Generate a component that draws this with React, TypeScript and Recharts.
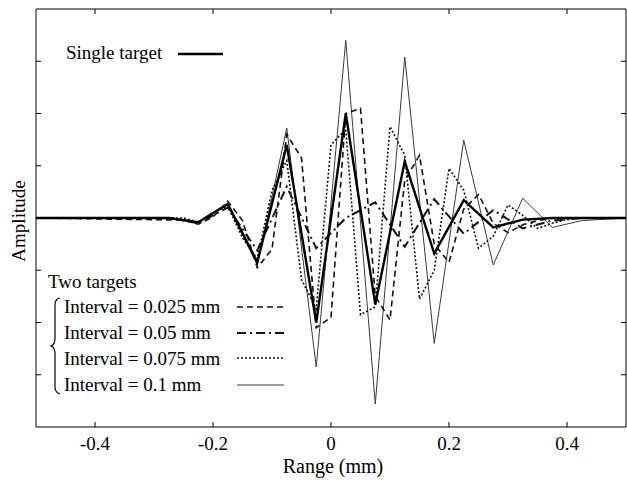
import React from 'react';
import { LineChart, Line, XAxis, YAxis } from 'recharts';

const W = 627;
const H = 481;
const FONT = 'Liberation Serif, Times New Roman, serif';

const xTickValues = [-0.4, -0.2, 0, 0.2, 0.4];
const yTickValues = [-3, -2, -1, 0, 1, 2, 3];

// Single target (samples every 0.05 mm)
const singleX = [-0.5, -0.275, -0.225, -0.175, -0.125, -0.075, -0.025, 0.025, 0.075, 0.125, 0.175, 0.225, 0.275, 0.325, 0.375, 0.5];
const singleY = [0, 0, -0.08, 0.27, -0.85, 1.4, -2.0, 2.0, -1.65, 1.08, -0.68, 0.34, -0.18, -0.03, 0, 0];

// Interval = 0.1 mm
const int100X = [-0.5, -0.275, -0.225, -0.175, -0.125, -0.075, -0.025, 0.025, 0.075, 0.125, 0.175, 0.225, 0.275, 0.325, 0.375, 0.425, 0.5];
const int100Y = [0, 0, -0.08, 0.27, -0.9, 1.72, -2.85, 3.4, -3.56, 3.08, -2.4, 1.49, -0.9, 0.38, -0.18, -0.05, 0];

// Interval = 0.05 mm
const int050X = [-0.5, -0.275, -0.225, -0.175, -0.125, -0.075, -0.025, 0.025, 0.075, 0.125, 0.175, 0.225, 0.275, 0.325, 0.375, 0.425, 0.5];
const int050Y = [0, 0, -0.1, 0.2, -0.62, 0.6, -0.58, 0.0, 0.3, -0.55, 0.36, -0.3, 0.15, -0.2, -0.05, 0, 0];

// Interval = 0.025 mm
const int025X = [-0.5, -0.25, -0.225, -0.2, -0.175, -0.15, -0.125, -0.1, -0.075, -0.05, -0.025, 0, 0.025, 0.05, 0.075, 0.1, 0.125, 0.15, 0.175, 0.2, 0.225, 0.25, 0.275, 0.3, 0.325, 0.35, 0.375, 0.4, 0.5];
const int025Y = [0, -0.04, -0.12, 0.02, 0.32, -0.05, -0.95, -0.6, 1.6, 1.15, -2.1, -1.9, 2.0, 2.1, -1.5, -1.95, 0.72, 1.2, -0.5, -0.85, 0.17, 0.45, -0.1, -0.28, -0.13, -0.05, 0, 0, 0];

// Interval = 0.075 mm
const int075X = [-0.5, -0.25, -0.225, -0.2, -0.175, -0.15, -0.125, -0.1, -0.075, -0.05, -0.025, 0, 0.025, 0.05, 0.075, 0.1, 0.125, 0.15, 0.175, 0.2, 0.225, 0.25, 0.275, 0.3, 0.325, 0.35, 0.375, 0.4, 0.425, 0.5];
const int075Y = [0, 0, -0.08, 0.1, 0.23, -0.38, -0.78, 0.53, 1.1, -1.18, -1.74, 1.4, 1.7, -1.85, -1.7, 1.75, 1.2, -1.55, -1.0, 0.95, 0.53, -0.58, -0.35, 0.25, 0.05, -0.2, -0.1, -0.03, 0, 0];

const rows = (xs: number[], ys: number[]) => xs.map((x, i) => ({ x, y: ys[i] }));

const singleData = rows(singleX, singleY);
const d100 = rows(int100X, int100Y);
const d050 = rows(int050X, int050Y);
const d025 = rows(int025X, int025Y);
const d075 = rows(int075X, int075Y);

const fmt = (v: number) => (v === 0 ? '0' : String(v));
const blank = () => '';

export default function App() {
  const txt = { fontSize: 19, fill: '#000', style: { fontFamily: FONT } } as const;
  return (
    <div style={{ position: 'absolute', left: 0, top: 0, width: W, height: H, background: '#fff' }}>
      <LineChart width={W} height={H} margin={{ top: 8, right: 0, bottom: 53, left: 35 }}>
        <XAxis xAxisId="b" type="number" dataKey="x" domain={[-0.5, 0.5]} allowDataOverflow ticks={xTickValues}
          tickFormatter={fmt} height={1} tickSize={-5} tickMargin={15} stroke="#000"
          tick={{ fontSize: 19, fill: '#000', style: { fontFamily: FONT } }} />
        <XAxis xAxisId="t" orientation="top" type="number" dataKey="x" domain={[-0.5, 0.5]} allowDataOverflow ticks={xTickValues}
          tickFormatter={blank} height={1} tickSize={-5} stroke="#000" />
        <YAxis yAxisId="l" type="number" domain={[-4, 4]} allowDataOverflow ticks={yTickValues}
          tickFormatter={blank} width={1} tickSize={-5} stroke="#000" />
        <YAxis yAxisId="r" orientation="right" type="number" domain={[-4, 4]} allowDataOverflow ticks={yTickValues}
          tickFormatter={blank} width={1} tickSize={-5} stroke="#000" />
        <Line xAxisId="b" yAxisId="l" data={d100} dataKey="y" type="linear" stroke="#3a3a3a" strokeWidth={1} dot={false} isAnimationActive={false} />
        <Line xAxisId="b" yAxisId="l" data={d075} dataKey="y" type="linear" stroke="#111" strokeWidth={1.6} strokeDasharray="2 2" dot={false} isAnimationActive={false} />
        <Line xAxisId="b" yAxisId="l" data={d050} dataKey="y" type="linear" stroke="#111" strokeWidth={2} strokeDasharray="9 4 2 4" dot={false} isAnimationActive={false} />
        <Line xAxisId="b" yAxisId="l" data={d025} dataKey="y" type="linear" stroke="#111" strokeWidth={1.6} strokeDasharray="6 4" dot={false} isAnimationActive={false} />
        <Line xAxisId="b" yAxisId="l" data={singleData} dataKey="y" type="linear" stroke="#000" strokeWidth={2.4} dot={false} isAnimationActive={false} />
      </LineChart>
      <svg width={W} height={H} style={{ position: 'absolute', left: 0, top: 0, pointerEvents: 'none' }}>
        <text x={333} y={473} textAnchor="middle" {...txt} fontSize={20}>Range (mm)</text>
        <text transform="translate(25,221) rotate(-90)" textAnchor="middle" {...txt}>Amplitude</text>
        <text x={66} y={59} {...txt}>Single target</text>
        <line x1={178} x2={223} y1={54} y2={54} stroke="#000" strokeWidth={2.4} />
        <text x={48} y={288} {...txt}>Two targets</text>
        <text x={64} y={313} {...txt}>Interval = 0.025 mm</text>
        <text x={64} y={339} {...txt}>Interval = 0.05 mm</text>
        <text x={64} y={365} {...txt}>Interval = 0.075 mm</text>
        <text x={64} y={391} {...txt}>Interval = 0.1 mm</text>
        <line x1={237} x2={284} y1={307} y2={307} stroke="#111" strokeWidth={1.6} strokeDasharray="6 4" />
        <line x1={237} x2={284} y1={333} y2={333} stroke="#111" strokeWidth={2} strokeDasharray="9 4 2 4" />
        <line x1={237} x2={284} y1={358} y2={358} stroke="#111" strokeWidth={1.6} strokeDasharray="2 2" />
        <line x1={237} x2={284} y1={385} y2={385} stroke="#3a3a3a" strokeWidth={1} />
        <path d="M60,298 C54,299 55,304 55,312 L55,338 C55,343 54,345 51,346 C54,347 55,349 55,354 L55,380 C55,388 54,392 60,394"
          fill="none" stroke="#000" strokeWidth={1.2} />
      </svg>
    </div>
  );
}
